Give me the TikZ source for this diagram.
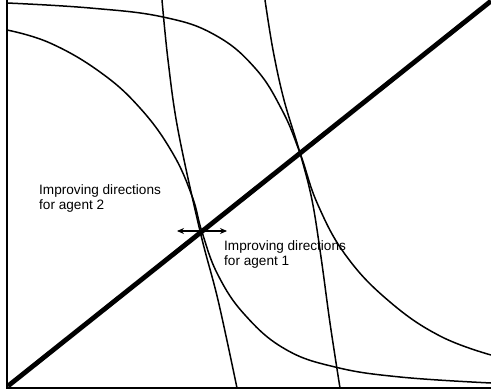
\documentclass[tikz,border=0pt]{standalone}
\usepackage{fontspec}
\setmainfont{Liberation Sans}
\usetikzlibrary{arrows.meta}
\tikzset{
  curve/.style={line width=1.5pt, line cap=round, line join=round},
  axis/.style={line width=1.5pt},
  thickline/.style={line width=4.8pt},
  lbl/.style={anchor=north west, inner sep=0pt, align=left, font=\fontsize{13.6}{15.5}\selectfont},
  dirarrow/.style={line width=1.1pt, {Stealth[length=7pt,width=6pt]}-{Stealth[length=7pt,width=6pt]}}
}
\begin{document}
\begin{tikzpicture}[x=1pt,y=-1pt]
\useasboundingbox (0,0) rectangle (491,391);
\fill[white] (0,0) rectangle (491,391);
% axes
\coordinate (O) at (7,388);
\coordinate (Ytop) at (7,0);
\coordinate (Xend) at (491,388);
\draw[axis] (Ytop) -- (O) -- (Xend);
% thick diagonal
\coordinate (D0) at (8,386);
\coordinate (D1) at (491,1);
\draw[thickline] (D0) -- (D1);
% outer curve
\draw[curve] plot[smooth, tension=0.7] coordinates {(7,3) (90,8) (163,17) (215,35) (255,68) (282,110) (300,153) (318,205) (347,257) (390,302) (440,336) (491,355)};
% inner curve
\draw[curve] plot[smooth, tension=0.7] coordinates {(7,30) (50,43) (100,72) (140,108) (172,152) (192,196) (202,232) (218,275) (245,315) (285,349) (335,367) (400,377) (491,383)};
% steep line 1
\draw[curve] plot[smooth, tension=0.6] coordinates {(162,0) (168,60) (178,130) (200,231) (218,300) (237,388)};
% steep line 2
\draw[curve] plot[smooth, tension=0.6] coordinates {(265,0) (273,50) (284,100) (300,153) (312,200) (321,257) (330,323) (340,388)};
% arrow
\coordinate (AL) at (177,231);
\coordinate (AR) at (227,231);
\draw[dirarrow] (AL) -- (AR);
% labels
\node[lbl] (l2) at (39,184) {Improving directions\\for agent 2};
\node[lbl] (l1) at (224,240) {Improving directions\\for agent 1};
\end{tikzpicture}
\end{document}
